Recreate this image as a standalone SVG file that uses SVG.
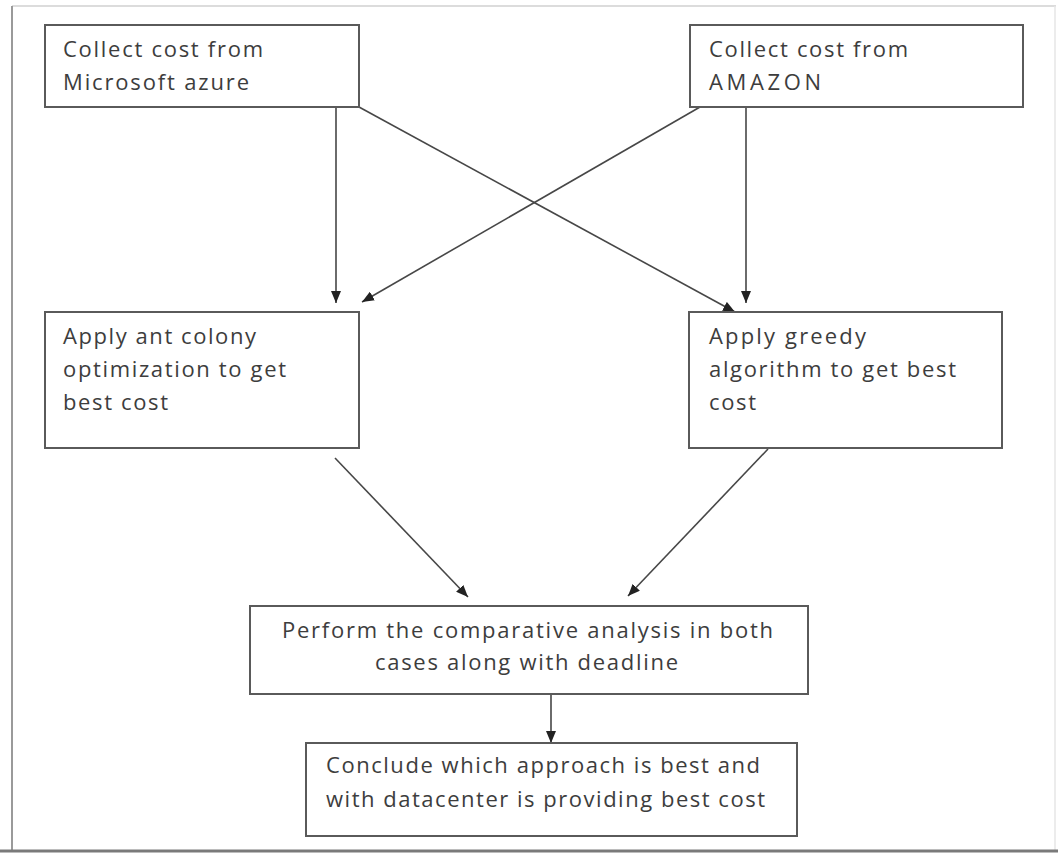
<svg xmlns="http://www.w3.org/2000/svg" width="1058" height="854" viewBox="0 0 1058 854">
<style>
.box{fill:#ffffff;stroke:#5a5a5a;stroke-width:2}
.lbl{font-family:"Open Sans","Liberation Sans",sans-serif;font-size:22px;fill:#3d3d3d}
.con{stroke:#474747;stroke-width:1.6;fill:none;marker-end:url(#ah)}
</style>
<defs>
<marker id="ah" viewBox="0 0 12 10" refX="12" refY="5" markerWidth="12" markerHeight="10" markerUnits="userSpaceOnUse" orient="auto">
<path d="M0,0 L12,5 L0,10 z" fill="#222222"/>
</marker>
</defs>
<rect x="0" y="0" width="1058" height="854" fill="#ffffff"/>
<g id="frame">
<line x1="12" y1="6" x2="1056" y2="6" stroke="#dcdcdc" stroke-width="2"/>
<line x1="1055" y1="6" x2="1055" y2="851" stroke="#e6e6e6" stroke-width="1.5"/>
<line x1="12" y1="6" x2="12" y2="851" stroke="#9a9a9a" stroke-width="2"/>
<line x1="0" y1="851" x2="1058" y2="851" stroke="#7a7a7a" stroke-width="3"/>
</g>
<g id="connectors">
<line class="con" x1="336" y1="107" x2="336" y2="303"/>
<line class="con" x1="359" y1="107" x2="735" y2="312"/>
<line class="con" x1="700" y1="107" x2="362" y2="302"/>
<line class="con" x1="746" y1="107" x2="746" y2="303"/>
<line class="con" x1="335" y1="458" x2="468" y2="597"/>
<line class="con" x1="768" y1="449" x2="628" y2="596"/>
<line class="con" x1="551" y1="694" x2="551" y2="743"/>
</g>
<g id="azure">
<rect class="box" x="45" y="25" width="314" height="82"/>
<text class="lbl" x="63" y="57" textLength="200" lengthAdjust="spacing">Collect cost from</text>
<text class="lbl" x="63" y="90" textLength="186" lengthAdjust="spacing">Microsoft azure</text>
</g>
<g id="amazon">
<rect class="box" x="690" y="25" width="333" height="82"/>
<text class="lbl" x="709" y="57" textLength="199" lengthAdjust="spacing">Collect cost from</text>
<text class="lbl" x="709" y="90" textLength="112" lengthAdjust="spacing">AMAZON</text>
</g>
<g id="aco">
<rect class="box" x="45" y="312" width="314" height="136"/>
<text class="lbl" x="63" y="344" textLength="193" lengthAdjust="spacing">Apply ant colony</text>
<text class="lbl" x="63" y="377" textLength="223" lengthAdjust="spacing">optimization to get</text>
<text class="lbl" x="63" y="410" textLength="105" lengthAdjust="spacing">best cost</text>
</g>
<g id="greedy">
<rect class="box" x="689" y="312" width="313" height="136"/>
<text class="lbl" x="709" y="344" textLength="157" lengthAdjust="spacing">Apply greedy</text>
<text class="lbl" x="709" y="377" textLength="247" lengthAdjust="spacing">algorithm to get best</text>
<text class="lbl" x="709" y="410" textLength="47" lengthAdjust="spacing">cost</text>
</g>
<g id="compare">
<rect class="box" x="250" y="606" width="558" height="88"/>
<text class="lbl" x="282" y="638" textLength="491" lengthAdjust="spacing">Perform the comparative analysis in both</text>
<text class="lbl" x="375" y="670" textLength="303" lengthAdjust="spacing">cases along with deadline</text>
</g>
<g id="conclude">
<rect class="box" x="306" y="743" width="491" height="93"/>
<text class="lbl" x="326" y="773" textLength="434" lengthAdjust="spacing">Conclude which approach is best and</text>
<text class="lbl" x="326" y="807" textLength="439" lengthAdjust="spacing">with datacenter is providing best cost</text>
</g>
</svg>
